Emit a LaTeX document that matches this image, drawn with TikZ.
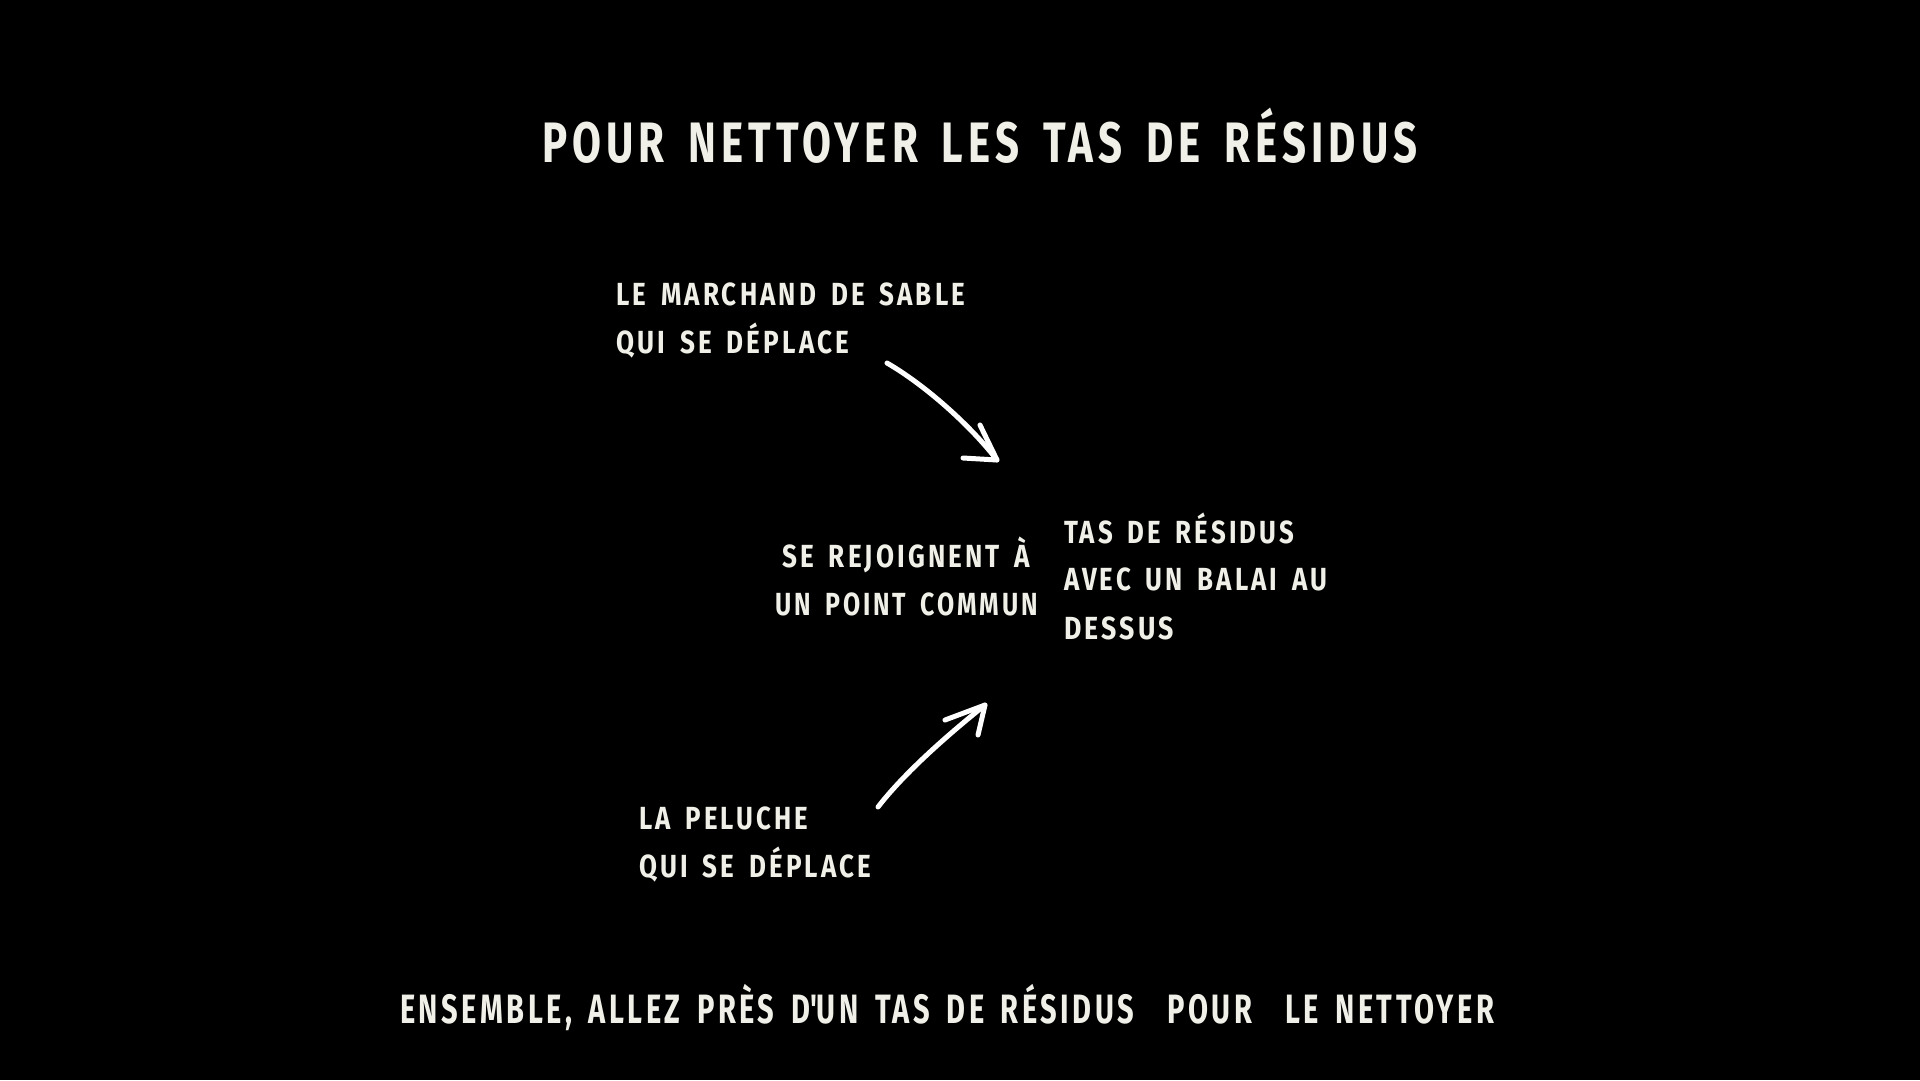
\documentclass[tikz,border=0pt]{standalone}
\usepackage{fontspec}
\usepackage{graphicx}
\setmainfont{Fira Sans}[LetterSpace=12,WordSpace=1.6]
\definecolor{txt}{RGB}{240,240,232}
\newsavebox\fitbox
\newlength\fitlen
\newcommand\fitline[2]{\sbox\fitbox{#2}\setlength\fitlen{\wd\fitbox}\pgfmathsetmacro\fitr{#1/\fitlen}\scalebox{\fitr}[1]{\usebox\fitbox}}
\tikzset{
  body/.style={inner sep=0pt, anchor=base west, text=txt, font=\fontsize{32}{36}\selectfont\bfseries},
  title/.style={inner sep=0pt, anchor=base west, text=txt, font=\fontsize{57}{60}\selectfont\bfseries},
  foot/.style={inner sep=0pt, anchor=base west, text=txt, font=\fontsize{41}{44}\selectfont\bfseries},
  arr/.style={draw=white, line width=5pt, line cap=round, line join=round}
}
\begin{document}
\begin{tikzpicture}[x=1pt,y=-1pt]
\path[fill=black] (0,0) rectangle (1920,1080);
\useasboundingbox (0,0) rectangle (1920,1080);
% title
\node[title] (t) at (542,162) {\fitline{875}{POUR NETTOYER LES TAS DE RÉSIDUS}};
% top left
\node[body] (m1) at (616,305) {\fitline{349}{LE MARCHAND DE SABLE}};
\node[body] (m2) at (616,353) {\fitline{233}{QUI SE DÉPLACE}};
% centre
\node[body] (c1) at (782,567) {\fitline{248}{SE REJOIGNENT À}};
\node[body] (c2) at (775,615) {\fitline{263}{UN POINT COMMUN}};
% right
\node[body] (r1) at (1064,543) {\fitline{230}{TAS DE RÉSIDUS}};
\node[body] (r2) at (1064,590) {\fitline{263}{AVEC UN BALAI AU}};
\node[body] (r3) at (1064,639) {\fitline{110}{DESSUS}};
% bottom left
\node[body] (p1) at (639,829) {\fitline{169}{LA PELUCHE}};
\node[body] (p2) at (639,877) {\fitline{232}{QUI SE DÉPLACE}};
% footer
\node[foot] (f) at (400,1023) {\fitline{1094}{ENSEMBLE, ALLEZ PRÈS D\textquotesingle UN TAS DE RÉSIDUS\ \ POUR\ \ LE NETTOYER}};
% arrow 1
\coordinate (a1s) at (887,363);
\coordinate (a1t) at (997,460);
\coordinate (a1h1) at (980,425);
\coordinate (a1h2) at (963,458);
\draw[arr] (a1s) .. controls (925,385) and (970,425) .. (a1t);
\draw[arr] (a1h1) -- (a1t) -- (a1h2);
% arrow 2
\coordinate (a2s) at (878,807);
\coordinate (a2t) at (985,705);
\coordinate (a2h1) at (945,720);
\coordinate (a2h2) at (978,735);
\draw[arr] (a2s) .. controls (905,772) and (950,733) .. (a2t);
\draw[arr] (a2h1) -- (a2t) -- (a2h2);
\end{tikzpicture}
\end{document}
